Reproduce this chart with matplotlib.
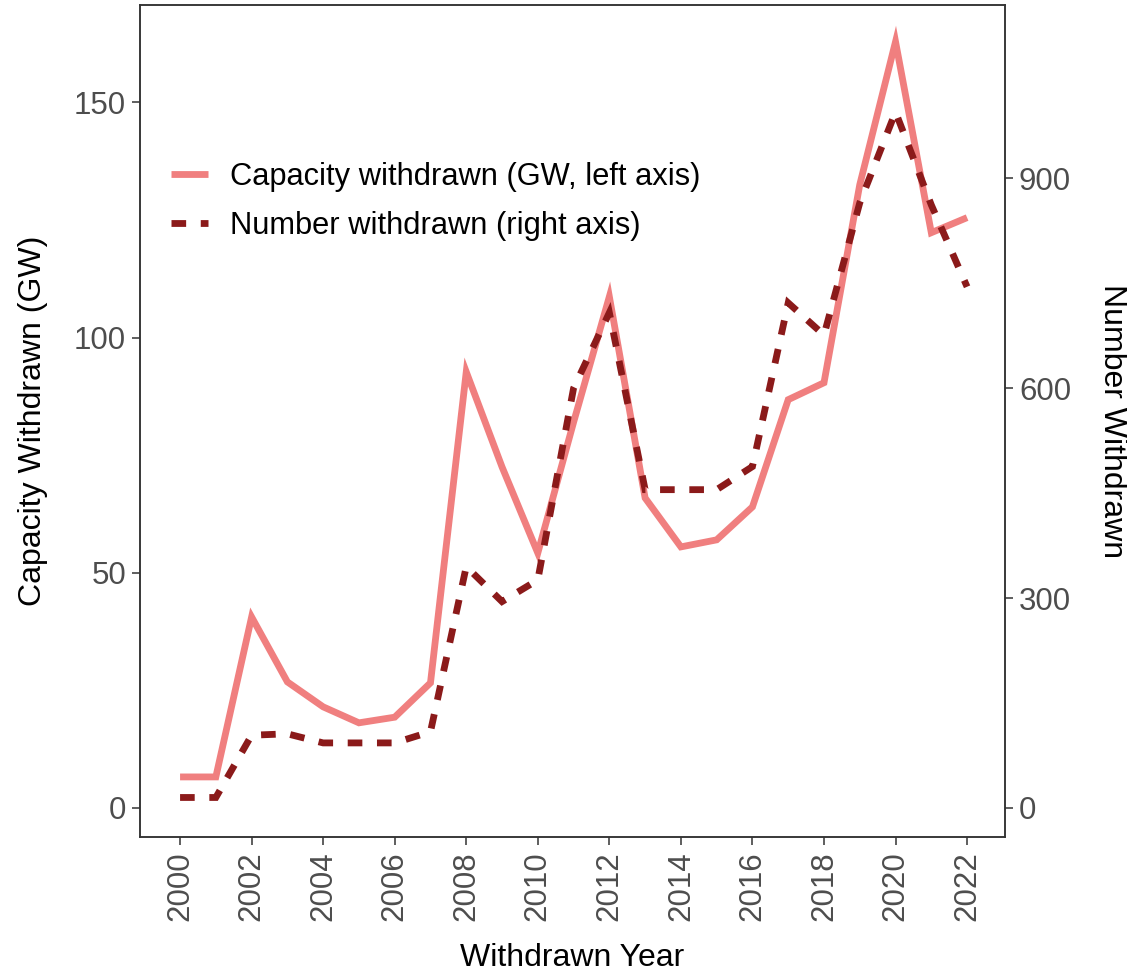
import matplotlib
matplotlib.use("Agg")
import matplotlib.pyplot as plt
from matplotlib.lines import Line2D

plt.rcParams['font.family'] = ['Liberation Sans', 'DejaVu Sans']

years = list(range(2000, 2023))
capacity_gw = [6.6, 6.6, 40.6, 26.8, 21.5, 18.1, 19.3, 26.6, 92.7, 72.5, 54.2, 82.0,
               108.7, 65.9, 55.5, 57.0, 64.0, 86.8, 90.4, 132.5, 162.9, 122.3, 125.5]
number_withdrawn = [15, 15, 104, 106, 93, 93, 93, 109, 345, 295, 326, 600,
                    708, 455, 455, 455, 488, 722, 676, 865, 995, 862, 745]
x_ticks = list(range(2000, 2023, 2))
left_ticks = [0, 50, 100, 150]
right_ticks = [0, 300, 600, 900]
labels = ["Capacity withdrawn (GW, left axis)", "Number withdrawn (right axis)"]

scale = 6.724  # number per GW on the secondary axis
cap_color = "#F07F7F"
num_color = "#8B1A1A"
tick_gray = "#4D4D4D"
dash = (0, (2.15, 2.15))

fig = plt.figure(figsize=(11.27, 9.76), dpi=100)
ax = fig.add_axes([140/1127, 1 - 837/976, 865/1127, 832/976])
ax2 = ax.twinx()

ax.plot(years, capacity_gw, color=cap_color, lw=4.9, solid_capstyle='butt', solid_joinstyle='miter')
ax2.plot(years, number_withdrawn, color=num_color, lw=4.9, linestyle=dash,
         dash_capstyle='butt', dash_joinstyle='miter')

ylo, yhi = -6.17, 170.7
ax.set_ylim(ylo, yhi)
ax2.set_ylim(ylo * scale, yhi * scale)
ax.set_xlim(1998.88, 2023.06)

ax.set_xticks(x_ticks)
ax.set_xticklabels([str(t) for t in x_ticks], rotation=90)
ax.set_yticks(left_ticks)
ax2.set_yticks(right_ticks)

for a in (ax, ax2):
    a.tick_params(axis='both', direction='out', length=6, width=1.1, color='#333333',
                  labelsize=22.5, labelcolor=tick_gray, pad=4)
    for s in a.spines.values():
        s.set_color('#333333')
        s.set_linewidth(1.1)

ax.set_xlabel("Withdrawn Year", fontsize=23, labelpad=16)
ax.set_ylabel("Capacity Withdrawn (GW)", fontsize=23, labelpad=19)
ax2.set_ylabel("Number Withdrawn", fontsize=23, rotation=-90, labelpad=40)

handles = [Line2D([], [], color=cap_color, lw=4.9, solid_capstyle='butt'),
           Line2D([], [], color=num_color, lw=4.9, linestyle=dash, dash_capstyle='butt')]
ax2.legend(handles, labels, loc='upper left', bbox_to_anchor=(0.022, 0.826), frameon=False,
           fontsize=22.2, handlelength=1.2, handletextpad=0.69, labelspacing=0.62,
           borderaxespad=0)

fig.savefig("out.png", dpi=100)
